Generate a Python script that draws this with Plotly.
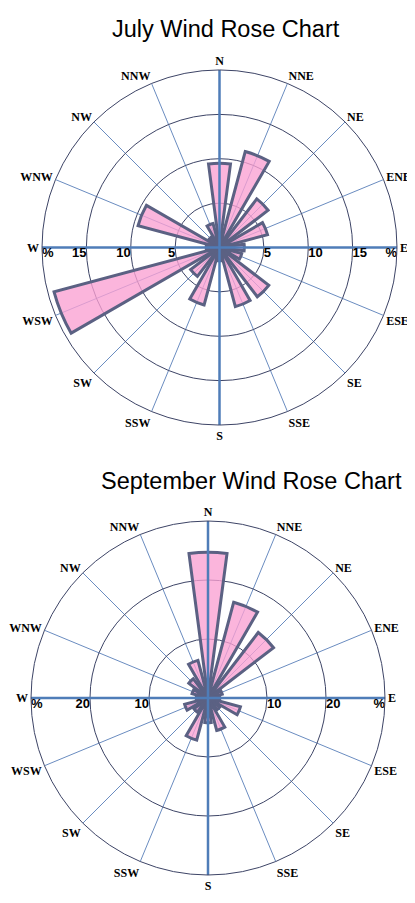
import plotly.graph_objects as go

# wind directions (degrees clockwise from north) and labels
directions = ['N', 'NNE', 'NE', 'ENE', 'E', 'ESE', 'SE', 'SSE',
              'S', 'SSW', 'SW', 'WSW', 'W', 'WNW', 'NW', 'NNW']
angles = [0, 22.5, 45, 67.5, 90, 112.5, 135, 157.5,
          180, 202.5, 225, 247.5, 270, 292.5, 315, 337.5]

# frequency in percent
july = [9.5, 11.2, 6.9, 5.6, 2.8, 2.6, 7.0, 6.9,
        1.5, 6.7, 4.1, 19.3, 1.5, 9.5, 1.5, 2.8]
september = [24.7, 16.8, 14.0, 2.5, 2.0, 5.7, 2.5, 5.7,
             4.2, 7.4, 3.0, 4.1, 2.0, 2.8, 4.1, 6.6]

july_ticks = [5, 10, 15, 20]
july_ticktext = ['5', '10', '15', '%']
sept_ticks = [10, 20, 30]
sept_ticktext = ['10', '20', '%']

fill = 'rgba(250,160,210,0.78)'
edge = '#5b6183'
spoke = '#6a8cc0'
ring = '#3d4466'
axis_blue = '#4f7db8'

# the page body adds an 8px margin, so the figure is laid out 8px in
W, H = 407, 887
OFF = 8


def px_x(x):
    return (x - OFF) / W


def px_y(y):
    return 1 - (y - OFF) / H


fig = go.Figure()


def add_rose(values, ticks, ticktext, polar):
    rmax = ticks[-1]
    # thick N-S / E-W cross
    fig.add_trace(go.Scatterpolar(r=[rmax, 0, rmax], theta=[0, 0, 180], mode='lines',
                                  line=dict(color=axis_blue, width=2.5),
                                  hoverinfo='skip', showlegend=False, subplot=polar))
    fig.add_trace(go.Scatterpolar(r=[rmax, 0, rmax], theta=[90, 90, 270], mode='lines',
                                  line=dict(color=axis_blue, width=2.5),
                                  hoverinfo='skip', showlegend=False, subplot=polar))
    fig.add_trace(go.Barpolar(r=values, theta=angles, width=15,
                              marker=dict(color=fill, line=dict(color=edge, width=3)),
                              showlegend=False, subplot=polar))
    # radial tick labels on both sides of the E-W line
    pos_e = ['bottom right'] * (len(ticks) - 1) + ['bottom left']
    pos_w = ['bottom left'] * (len(ticks) - 1) + ['bottom right']
    fig.add_trace(go.Scatterpolar(r=ticks, theta=[90] * len(ticks), mode='text',
                                  text=ticktext, textposition=pos_e,
                                  textfont=dict(family='Liberation Sans', size=13,
                                                color='black', weight='bold'),
                                  hoverinfo='skip', showlegend=False, subplot=polar))
    fig.add_trace(go.Scatterpolar(r=ticks, theta=[270] * len(ticks), mode='text',
                                  text=ticktext, textposition=pos_w,
                                  textfont=dict(family='Liberation Sans', size=13,
                                                color='black', weight='bold'),
                                  hoverinfo='skip', showlegend=False, subplot=polar))


add_rose(july, july_ticks, july_ticktext, 'polar')
add_rose(september, sept_ticks, sept_ticktext, 'polar2')


def polar_layout(left, right, top, bottom, ticks):
    return dict(
        domain=dict(x=[px_x(left), px_x(right)], y=[px_y(bottom), px_y(top)]),
        bgcolor='white',
        radialaxis=dict(range=[0, ticks[-1]], tickvals=ticks, showticklabels=False,
                        ticks='', showline=False, gridcolor=ring, gridwidth=1),
        angularaxis=dict(direction='clockwise', rotation=90, thetaunit='degrees',
                         tickmode='array', tickvals=angles, ticktext=directions,
                         ticks='', showline=True, linecolor=ring, linewidth=1,
                         gridcolor=spoke, gridwidth=1,
                         tickfont=dict(family='Liberation Serif', size=12,
                                       color='black', weight='bold')),
    )


fig.update_layout(
    width=W, height=H,
    margin=dict(l=0, r=0, t=0, b=0),
    paper_bgcolor='white',
    plot_bgcolor='white',
    polar=polar_layout(42, 397, 70, 425, july_ticks),
    polar2=polar_layout(31, 385, 521, 875, sept_ticks),
    annotations=[
        dict(text='July Wind Rose Chart', x=px_x(226), y=px_y(29),
             xref='paper', yref='paper', xanchor='center', yanchor='middle',
             showarrow=False,
             font=dict(family='Liberation Sans', size=23.5, color='black')),
        dict(text='September Wind Rose Chart', x=px_x(252), y=px_y(481),
             xref='paper', yref='paper', xanchor='center', yanchor='middle',
             showarrow=False,
             font=dict(family='Liberation Sans', size=23.5, color='black')),
    ],
)

fig.write_html('out.html')
